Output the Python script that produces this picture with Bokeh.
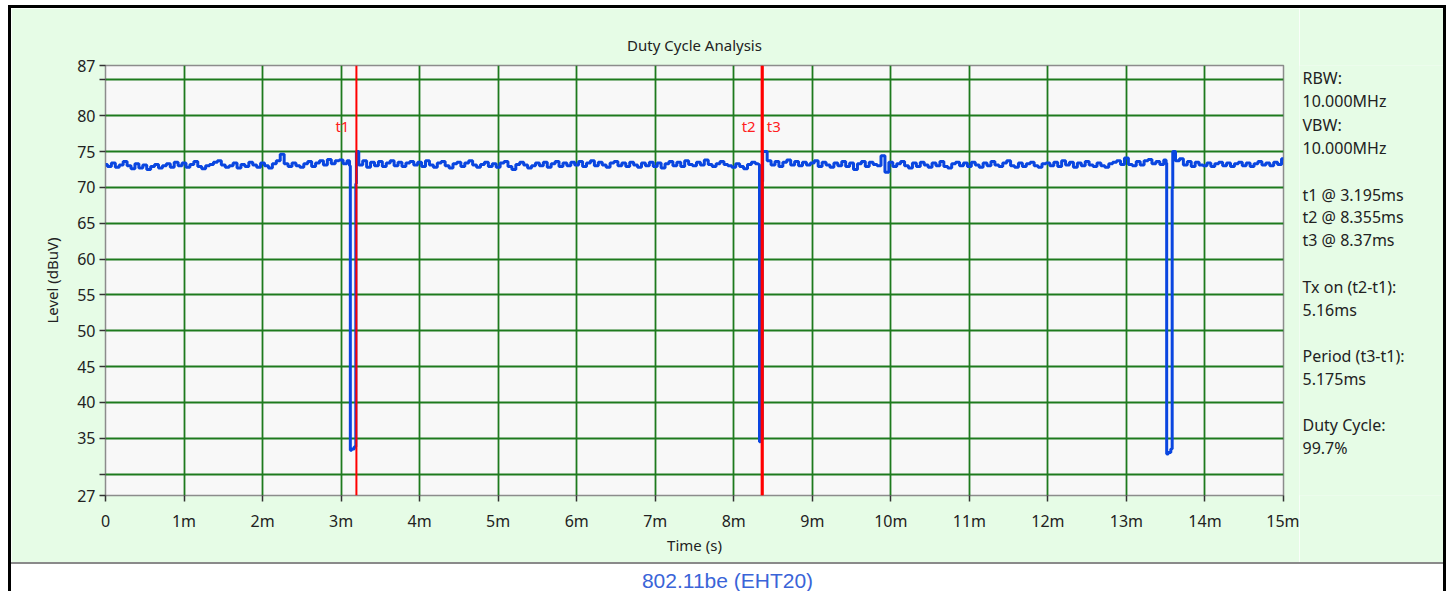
from bokeh.plotting import figure
from bokeh.models import FixedTicker, Label, Range1d, Spacer, Div
from bokeh.layouts import column, row
from bokeh.embed import file_html
from bokeh.resources import INLINE

# ---------------- data ----------------
sample_step_ms = 0.05
# trace level (dBuV), 20 samples per ms, rows = 0..14 ms
level_rows = [
    [73.2, 72.9, 73.4, 72.8, 73.1, 73.6, 73.0, 72.6, 73.3, 72.7, 73.1, 72.5, 72.9, 73.2, 72.7, 73.0, 73.3, 72.8, 73.5, 73.0],
    [73.4, 72.8, 73.2, 73.6, 72.9, 72.6, 73.0, 73.2, 73.5, 73.7, 73.1, 72.8, 73.0, 73.4, 72.7, 73.2, 72.9, 73.5, 73.1, 72.8],
    [73.4, 73.0, 72.7, 73.3, 73.7, 74.6, 73.3, 72.9, 73.4, 73.0, 72.8, 73.3, 73.6, 72.9, 73.4, 73.7, 73.1, 73.9, 73.3, 73.7],
    [73.8, 73.3, 73.7, 33.4, 75.0, 73.1, 73.7, 72.8, 73.5, 73.0, 73.6, 72.9, 73.4, 73.7, 73.0, 73.5, 72.9, 73.4, 73.6, 73.1],
    [73.5, 72.9, 73.7, 73.1, 72.8, 73.4, 73.6, 73.0, 72.7, 73.3, 73.5, 72.9, 73.4, 73.7, 73.1, 72.8, 73.2, 73.5, 72.9, 73.3],
    [72.8, 73.4, 73.6, 72.9, 72.5, 73.2, 73.5, 73.1, 72.7, 73.0, 73.4, 73.0, 73.5, 72.8, 73.3, 73.6, 72.9, 73.4, 73.0, 73.5],
    [73.1, 73.6, 72.9, 73.4, 73.7, 73.0, 73.5, 73.1, 72.8, 73.4, 73.6, 73.0, 73.4, 72.9, 73.5, 73.1, 72.8, 73.4, 73.0, 73.5],
    [72.9, 73.4, 72.7, 73.3, 73.6, 73.0, 73.5, 72.9, 73.7, 73.2, 73.0, 73.5, 73.1, 73.8, 73.2, 72.9, 73.3, 73.6, 73.2, 73.0],
    [72.8, 73.3, 72.9, 72.6, 73.2, 73.5, 73.3, 34.5, 75.0, 73.7, 73.1, 73.6, 72.9, 73.5, 73.8, 73.1, 73.6, 73.0, 73.5, 73.1],
    [73.4, 73.7, 72.9, 73.5, 73.1, 72.8, 73.4, 73.0, 73.6, 72.9, 73.4, 72.5, 73.3, 73.6, 72.9, 73.5, 73.2, 73.0, 74.4, 72.1],
    [73.5, 72.9, 73.3, 73.6, 73.0, 72.7, 73.4, 72.9, 73.5, 73.1, 72.8, 73.4, 73.0, 73.6, 72.9, 72.7, 73.3, 73.5, 73.0, 73.4],
    [72.9, 73.5, 73.1, 72.8, 73.4, 73.0, 73.6, 73.1, 72.9, 73.4, 73.7, 73.0, 72.8, 73.4, 72.9, 73.3, 73.5, 73.0, 72.8, 73.3],
    [73.4, 73.0, 73.5, 72.9, 73.7, 73.1, 73.5, 72.8, 73.4, 73.0, 73.6, 73.1, 72.9, 73.4, 73.0, 72.8, 73.3, 73.5, 73.7, 73.2],
    [74.1, 73.2, 73.0, 73.6, 73.1, 73.7, 73.9, 73.3, 73.6, 73.2, 73.8, 33.0, 75.0, 73.7, 74.0, 73.1, 73.6, 72.9, 73.5, 73.1],
    [73.0, 73.4, 72.9, 73.3, 73.5, 73.0, 73.4, 72.9, 73.3, 73.5, 73.0, 73.4, 72.9, 73.3, 73.6, 73.1, 73.4, 73.0, 73.5, 73.2],
]
level_end = 74.0

# the three drop-outs (time in ms, level in dBuV)
dip1_t = [3.115, 3.12, 3.15, 3.185, 3.19, 3.20]
dip1_v = [73.0, 33.3, 33.5, 33.8, 70.5, 75.0]
dip2_t = [8.325, 8.33, 8.35, 8.36, 8.365, 8.37]
dip2_v = [73.2, 34.5, 34.6, 34.8, 70.8, 75.0]
dip3_t = [13.51, 13.515, 13.55, 13.58, 13.585, 13.595]
dip3_v = [73.4, 32.8, 33.0, 33.5, 69.8, 75.0]

marker_names = ["t1", "t2", "t3"]
marker_times = [3.195, 8.355, 8.37]

x_ticks = list(range(0, 16))
x_tick_labels = ["0"] + [f"{i}m" for i in range(1, 16)]
y_ticks = [27, 30, 35, 40, 45, 50, 55, 60, 65, 70, 75, 80, 85, 87]
y_tick_labels = ["27", "", "35", "40", "45", "50", "55", "60", "65", "70", "75", "80", "", "87"]
y_grid = [30, 35, 40, 45, 50, 55, 60, 65, 70, 75, 80, 85]

info_lines = ["RBW:", "10.000MHz", "VBW:", "10.000MHz",
              "t1 @ 3.195ms", "t2 @ 8.355ms", "t3 @ 8.37ms",
              "Tx on (t2-t1):", "5.16ms",
              "Period (t3-t1):", "5.175ms",
              "Duty Cycle:", "99.7%"]
title_text = "Duty Cycle Analysis"
caption_text = "802.11be (EHT20)"

# ---------------- layout constants ----------------
info_px_from_top = [12, 35, 59, 82, 129, 151, 174, 221, 244, 290, 313, 359, 382]
FONT = "Noto Sans"
GREEN_BG = "#e6fce6"
TOP_B, BOT_B, LEFT_B, RIGHT_B = 57, 67, 94, 16
FRAME_W, FRAME_H = 1178, 430
MAIN_W = LEFT_B + FRAME_W + RIGHT_B
MAIN_H = TOP_B + FRAME_H + BOT_B
INFO_W = 144
INNER_W = MAIN_W + INFO_W
LINE_H, CAP_H = 2, 27
INNER_H = MAIN_H + LINE_H + CAP_H

# ---------------- build series ----------------
base_v = [v for r in level_rows for v in r] + [level_end]
base_t = [round(i * sample_step_ms, 3) for i in range(len(base_v))]
dips = [(dip1_t, dip1_v), (dip2_t, dip2_v), (dip3_t, dip3_v)]
pts = []
for t, v in zip(base_t, base_v):
    if any(dt[0] <= t <= dt[-1] for dt, _ in dips):
        continue
    pts.append((t, v))
for dt, dv in dips:
    pts.extend(zip(dt, dv))
pts.sort()
trace_t = [a for a, _ in pts]
trace_v = [b for _, b in pts]


def block(w, h, color):
    return Div(text="", width=w, height=h,
               styles={"background-color": color, "margin": "0", "padding": "0"})


# ---------------- main figure ----------------
p = figure(width=MAIN_W, height=MAIN_H, x_range=Range1d(0, 15), y_range=Range1d(27, 87),
           output_backend="svg", toolbar_location=None,
           min_border_left=LEFT_B, min_border_right=RIGHT_B,
           min_border_top=TOP_B, min_border_bottom=BOT_B,
           background_fill_color="#f8f8f8", border_fill_color=GREEN_BG,
           outline_line_color="#8c8c8c", outline_line_width=1.5,
           title=title_text)
p.title.align = "center"
p.title.text_font = FONT
p.title.text_font_size = "15px"
p.title.text_font_style = "normal"
p.title.text_color = "#222222"
p.title.standoff = 22

p.xaxis.ticker = FixedTicker(ticks=x_ticks)
p.xaxis.major_label_overrides = {k: s for k, s in zip(x_ticks, x_tick_labels)}
p.yaxis.ticker = FixedTicker(ticks=y_ticks)
p.yaxis.major_label_overrides = {k: s for k, s in zip(y_ticks, y_tick_labels)}
for ax in (p.xaxis, p.yaxis):
    ax.axis_line_color = None
    ax.minor_tick_line_color = None
    ax.major_tick_line_color = "#333333"
    ax.major_tick_line_width = 1.5
    ax.major_tick_in = 0
    ax.major_tick_out = 6
    ax.major_label_text_font = FONT
    ax.major_label_text_font_size = "16px"
    ax.major_label_text_color = "#222222"
    ax.axis_label_text_font = FONT
    ax.axis_label_text_font_size = "15px"
    ax.axis_label_text_font_style = "normal"
    ax.axis_label_text_color = "#222222"
p.xaxis.axis_label = "Time (s)"
p.yaxis.axis_label = "Level (dBuV)"
p.xaxis.major_label_standoff = 8
p.yaxis.major_label_standoff = 4
p.xaxis.axis_label_standoff = 0
p.yaxis.axis_label_standoff = 12

p.xgrid.ticker = FixedTicker(ticks=x_ticks[1:-1])
p.ygrid.ticker = FixedTicker(ticks=y_grid)
p.grid.grid_line_color = "#1e7a1e"
p.grid.grid_line_width = 1.8
p.grid.grid_line_alpha = 1.0

p.step(trace_t, trace_v, mode="center", line_color="#0a46e0", line_width=3)

p.segment(x0=marker_times, y0=[27] * len(marker_times), x1=marker_times, y1=[87] * len(marker_times),
          line_color="#ff0000", line_width=2)
marker_align = ["right", "right", "left"]
marker_off = [-7, -6, 4]
for name, t, al, off in zip(marker_names, marker_times, marker_align, marker_off):
    p.add_layout(Label(x=t, y=87, y_offset=-60, x_offset=off, text=name, text_align=al,
                       text_baseline="middle", text_color="#ff2020", text_font=FONT,
                       text_font_size="15px"))

# ---------------- info panel (right) ----------------
info = figure(width=INFO_W, height=MAIN_H, x_range=Range1d(0, INFO_W), y_range=Range1d(27, 87),
              x_axis_location=None, y_axis_location=None, output_backend="svg",
              toolbar_location=None, min_border_left=0, min_border_right=0,
              min_border_top=TOP_B, min_border_bottom=BOT_B, outline_line_color=None,
              background_fill_color=GREEN_BG, border_fill_color=GREEN_BG)
info.grid.visible = False
for line, px in zip(info_lines, info_px_from_top):
    info.add_layout(Label(x=3, y=87, y_offset=-px, text=line, text_align="left",
                          text_baseline="middle", text_color="#222222", text_font=FONT,
                          text_font_size="16px"))

# ---------------- caption strip ----------------
sep = block(INNER_W, LINE_H, "#8a8a8a")
c = figure(width=INNER_W, height=CAP_H, x_range=Range1d(0, 1), y_range=Range1d(0, 1),
           x_axis_location=None, y_axis_location=None, output_backend="svg",
           toolbar_location=None, min_border=0, outline_line_color=None,
           background_fill_color="white", border_fill_color="white")
c.grid.visible = False
c.add_layout(Label(x=0.5, y=0.42, text=caption_text, text_align="center", text_baseline="middle",
                   text_color="#3a64d8", text_font="Liberation Sans", text_font_size="21px"))

inner = column(row(p, info, spacing=0), sep, c, spacing=0)
framed = column(block(INNER_W + 6, 3, "black"),
                row(block(3, INNER_H, "black"), inner, block(3, INNER_H, "black"), spacing=0),
                spacing=0)
root = column(Spacer(width=1, height=5), row(Spacer(width=8, height=1), framed, spacing=0), spacing=0)

open("out.html", "w").write(file_html(root, INLINE))
